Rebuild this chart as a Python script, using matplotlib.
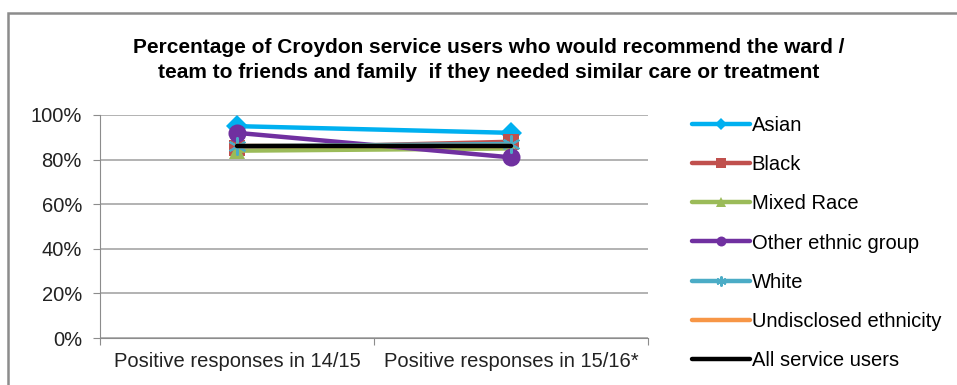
import matplotlib.pyplot as plt
from matplotlib.patches import Rectangle
from matplotlib.ticker import PercentFormatter

plt.rcParams['font.family'] = ['Liberation Sans', 'DejaVu Sans']

categories = ["Positive responses in 14/15", "Positive responses in 15/16*"]
asian = [95, 92]
black = [85, 88]
mixed_race = [84, 85]
other = [92, 81]
white = [86, 87]
undisclosed = [86, 86]
all_users = [86, 86]

series = [
    ("Asian", asian, "#00b0f0", "D", 11),
    ("Black", black, "#c0504d", "s", 12),
    ("Mixed Race", mixed_race, "#9bbb59", "^", 12),
    ("Other ethnic group", other, "#7030a0", "o", 13),
    ("White", white, "#4bacc6", (6, 2, 0), 13),
    ("Undisclosed ethnicity", undisclosed, "#f79646", None, 0),
    ("All service users", all_users, "#000000", None, 0),
]

fig = plt.figure(figsize=(9.57, 3.85), dpi=100)
fig.patches.append(Rectangle((8 / 957, -0.1), 1.1, 1 - 13 / 385 + 0.1,
                             transform=fig.transFigure, fill=False,
                             edgecolor="#8c8c8c", linewidth=1.8))

ax = fig.add_axes([100 / 957, 1 - 338 / 385, 548 / 957, 223 / 385])
x = [0.5, 1.5]
handles = []
for name, vals, col, mk, ms in series:
    mew = 1.5 if isinstance(mk, tuple) else 0
    h, = ax.plot(x, vals, color=col, linewidth=3.2, marker=mk, markersize=ms,
                 markeredgewidth=mew, markeredgecolor=col, label=name,
                 solid_capstyle="round")
    handles.append(h)

ax.set_xlim(0, 2)
ax.set_ylim(0, 100)
ax.set_yticks(range(0, 101, 20))
ax.yaxis.set_major_formatter(PercentFormatter(decimals=0))
ax.set_xticks([0, 1, 2])
ax.set_xticklabels([])
ax.set_xticks(x, minor=True)
ax.set_xticklabels(categories, minor=True)
ax.tick_params(axis="x", which="minor", length=0, pad=10, labelsize=14.5,
               labelcolor="#222222")
ax.tick_params(axis="x", which="major", length=5, color="#8c8c8c")
ax.tick_params(axis="y", length=5, color="#8c8c8c", labelsize=14.5, pad=8,
               labelcolor="#222222")
ax.grid(axis="y", color="#a6a6a6", linewidth=1.2)
ax.set_axisbelow(True)
for s in ["top", "right"]:
    ax.spines[s].set_visible(False)
for s in ["left", "bottom"]:
    ax.spines[s].set_color("#8c8c8c")

fig.text(489 / 957, 1 - 60 / 385,
         "Percentage of Croydon service users who would recommend the ward /\n"
         "team to friends and family  if they needed similar care or treatment",
         ha="center", va="center", fontsize=15, fontweight="bold",
         linespacing=1.35)

fig.legend(handles=handles, loc="upper left",
           bbox_to_anchor=(674 / 957, 1 - 98 / 385), frameon=False,
           fontsize=14.5, handlelength=2.85, handletextpad=0.1,
           labelspacing=1.0, markerscale=0.55)

fig.savefig("out.png", dpi=100)
